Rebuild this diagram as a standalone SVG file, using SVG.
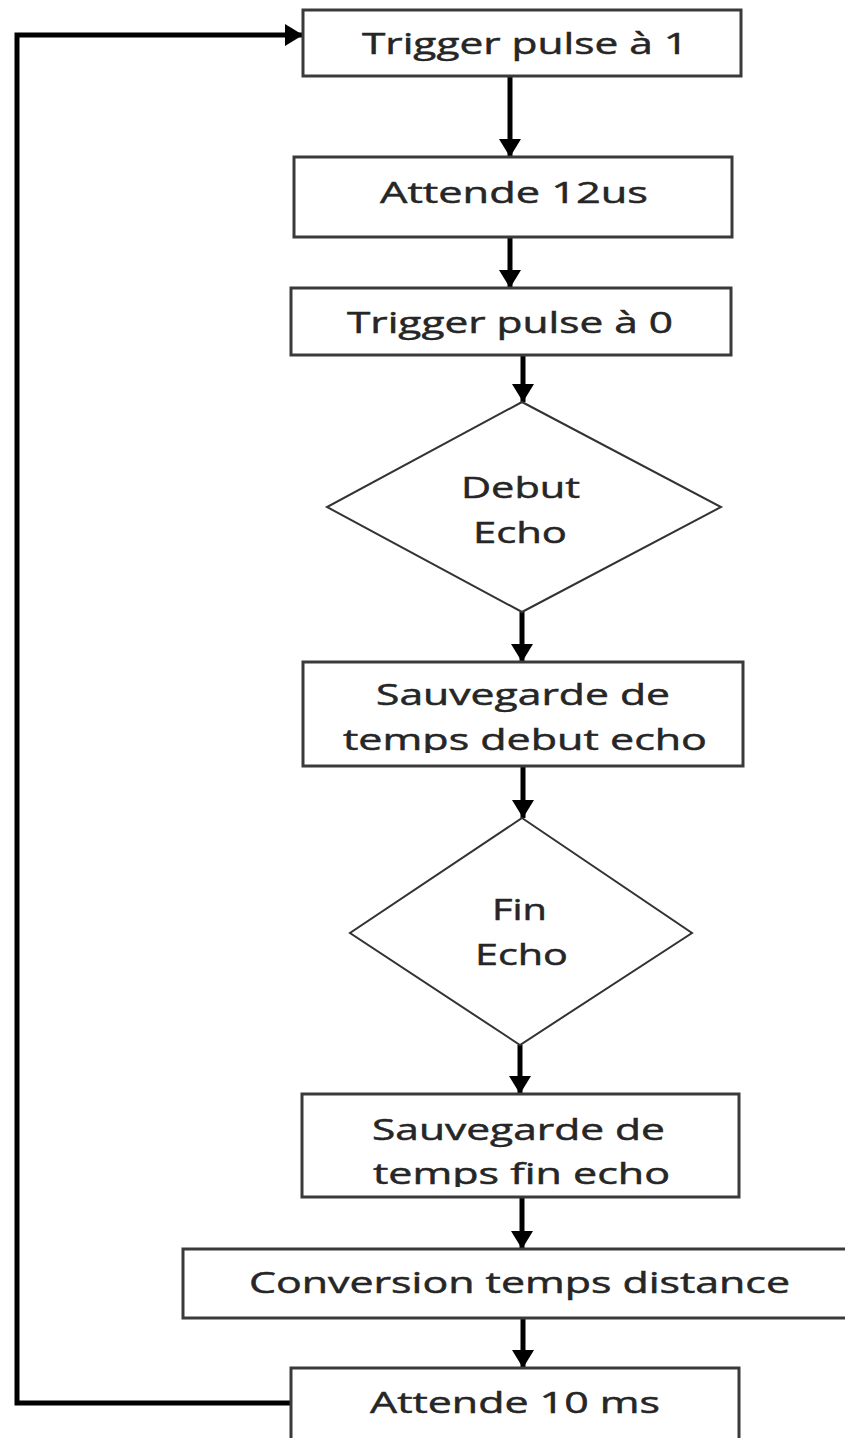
<svg xmlns="http://www.w3.org/2000/svg" width="845" height="1438" viewBox="0 0 845 1438">
  <style>
    .box { fill: #ffffff; stroke: #3a3a3a; stroke-width: 3; }
    .dia { fill: #ffffff; stroke: #333333; stroke-width: 2; }
    .lbl { font-family: "Open Sans", "Liberation Sans", sans-serif; font-size: 30px; fill: #262626; stroke: #262626; stroke-width: 0.5px; }
    .con { fill: none; stroke: #000000; stroke-width: 5; }
  </style>
  <defs>
    <marker id="arr" markerUnits="userSpaceOnUse" markerWidth="20" markerHeight="22" refX="18" refY="11" orient="auto">
      <path d="M0,0 L18,11 L0,22 z" fill="#000000"/>
    </marker>
    <clipPath id="clip4"><rect x="300" y="660" width="446" height="93"/></clipPath>
    <clipPath id="clip5"><rect x="300" y="1092" width="446" height="95"/></clipPath>
  </defs>
  <rect width="845" height="1438" fill="#ffffff"/>

  <g id="connectors">
    <line class="con" x1="510" y1="76" x2="510" y2="157" marker-end="url(#arr)"/>
    <line class="con" x1="510" y1="237" x2="510" y2="288" marker-end="url(#arr)"/>
    <line class="con" x1="523" y1="355" x2="523" y2="402" marker-end="url(#arr)"/>
    <line class="con" x1="522" y1="612" x2="522" y2="662" marker-end="url(#arr)"/>
    <line class="con" x1="523" y1="766" x2="523" y2="818" marker-end="url(#arr)"/>
    <line class="con" x1="520" y1="1045" x2="520" y2="1094" marker-end="url(#arr)"/>
    <line class="con" x1="522" y1="1197" x2="522" y2="1249" marker-end="url(#arr)"/>
    <line class="con" x1="523" y1="1318" x2="523" y2="1368" marker-end="url(#arr)"/>
    <path class="con" d="M291,1403 H17 V35 H303" marker-end="url(#arr)"/>
  </g>

  <g id="n1">
    <rect class="box" x="303" y="10" width="438" height="66"/>
    <text class="lbl" x="362" y="54" textLength="326" lengthAdjust="spacingAndGlyphs">Trigger pulse à 1</text>
  </g>
  <g id="n2">
    <rect class="box" x="294" y="157" width="438" height="80"/>
    <text class="lbl" x="380" y="203" textLength="268" lengthAdjust="spacingAndGlyphs">Attende 12us</text>
  </g>
  <g id="n3">
    <rect class="box" x="291" y="288" width="440" height="67"/>
    <text class="lbl" x="347" y="333" textLength="326" lengthAdjust="spacingAndGlyphs">Trigger pulse à 0</text>
  </g>
  <g id="n4">
    <polygon class="dia" points="522,402 721,507 522,612 327,507"/>
    <text class="lbl" x="461" y="498" textLength="119" lengthAdjust="spacingAndGlyphs">Debut</text>
    <text class="lbl" x="473" y="543" textLength="94" lengthAdjust="spacingAndGlyphs">Echo</text>
  </g>
  <g id="n5">
    <rect class="box" x="303" y="662" width="440" height="104"/>
    <g clip-path="url(#clip4)">
      <text class="lbl" x="376" y="705" textLength="294" lengthAdjust="spacingAndGlyphs">Sauvegarde de</text>
      <text class="lbl" x="343" y="750" textLength="364" lengthAdjust="spacingAndGlyphs">temps debut echo</text>
    </g>
  </g>
  <g id="n6">
    <polygon class="dia" points="522,818 692,933 520,1045 350,933"/>
    <text class="lbl" x="492" y="920" textLength="55" lengthAdjust="spacingAndGlyphs">Fin</text>
    <text class="lbl" x="475" y="965" textLength="93" lengthAdjust="spacingAndGlyphs">Echo</text>
  </g>
  <g id="n7">
    <rect class="box" x="302" y="1094" width="437" height="103"/>
    <g clip-path="url(#clip5)">
      <text class="lbl" x="372" y="1140" textLength="293" lengthAdjust="spacingAndGlyphs">Sauvegarde de</text>
      <text class="lbl" x="373" y="1184" textLength="297" lengthAdjust="spacingAndGlyphs">temps fin echo</text>
    </g>
  </g>
  <g id="n8">
    <rect class="box" x="183" y="1249" width="680" height="69"/>
    <text class="lbl" x="249" y="1293" textLength="541" lengthAdjust="spacingAndGlyphs">Conversion temps distance</text>
  </g>
  <g id="n9">
    <rect class="box" x="291" y="1368" width="448" height="90"/>
    <text class="lbl" x="370" y="1413" textLength="290" lengthAdjust="spacingAndGlyphs">Attende 10 ms</text>
  </g>
</svg>
